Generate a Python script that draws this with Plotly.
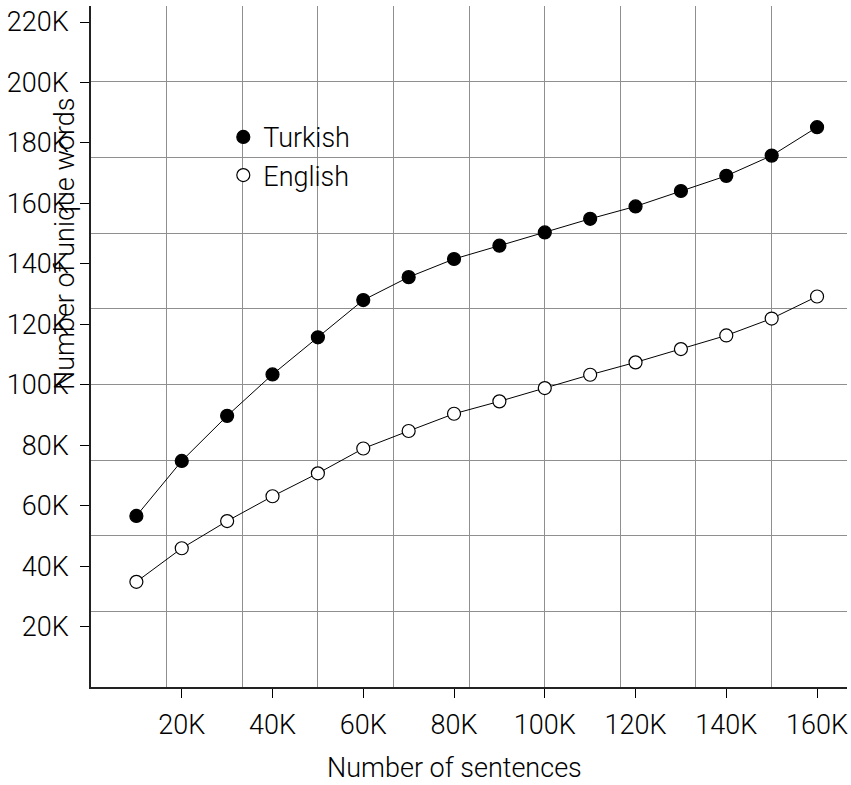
import plotly.graph_objects as go

sentences = [10000, 20000, 30000, 40000, 50000, 60000, 70000, 80000,
             90000, 100000, 110000, 120000, 130000, 140000, 150000, 160000]
turkish = [56600, 74800, 89700, 103400, 115700, 128000, 135600, 141600,
           146000, 150400, 154900, 159000, 164100, 169100, 175800, 185200]
english = [34800, 45900, 54900, 63100, 70700, 78900, 84700, 90400,
           94500, 98900, 103300, 107400, 111800, 116300, 121900, 129200]

x_tickvals = [20000, 40000, 60000, 80000, 100000, 120000, 140000, 160000]
x_ticktext = ["20K", "40K", "60K", "80K", "100K", "120K", "140K", "160K"]
y_tickvals = [20000, 40000, 60000, 80000, 100000, 120000, 140000,
              160000, 180000, 200000, 220000]
y_ticktext = ["20K", "40K", "60K", "80K", "100K", "120K", "140K",
              "160K", "180K", "200K", "220K"]

FONT = "Roboto"
FS = 27
FW = 300

fig = go.Figure()

# empty trace so the background grid subplot is drawn
fig.add_trace(go.Scatter(x=[None], y=[None], xaxis="x", yaxis="y",
                         showlegend=False, hoverinfo="skip", mode="markers"))

for name, vals, fill in [("Turkish", turkish, "black"), ("English", english, "white")]:
    fig.add_trace(go.Scatter(
        x=sentences, y=vals, mode="lines", xaxis="x2", yaxis="y2",
        line=dict(color="black", width=1), showlegend=False, hoverinfo="skip",
    ))
for name, vals, fill in [("Turkish", turkish, "black"), ("English", english, "white")]:
    fig.add_trace(go.Scatter(
        x=sentences, y=vals, name=name, mode="markers",
        xaxis="x2", yaxis="y2",
        marker=dict(symbol="circle", size=13, color=fill,
                    line=dict(color="black", width=1.2)),
    ))

grid_color = "#8f8f8f"

fig.update_layout(
    width=851, height=785,
    margin=dict(l=91, r=4, t=6, b=98),
    paper_bgcolor="white", plot_bgcolor="white",
    font=dict(family=FONT, size=FS, color="black", weight=FW),
    showlegend=True,
    legend=dict(
        x=0.175, y=0.843, xanchor="left", yanchor="top",
        bgcolor="rgba(0,0,0,0)", borderwidth=0,
        font=dict(family=FONT, size=FS, color="black", weight=FW),
        itemwidth=30, tracegroupgap=0,
        itemsizing="trace",
    ),
    xaxis=dict(
        range=[0, 10], dtick=1, tick0=0, showgrid=True, gridcolor=grid_color,
        gridwidth=1, showticklabels=False, ticks="", zeroline=False,
        showline=False, fixedrange=True,
    ),
    yaxis=dict(
        range=[0, 9], dtick=1, tick0=0, showgrid=True, gridcolor=grid_color,
        gridwidth=1, showticklabels=False, ticks="", zeroline=False,
        showline=False, fixedrange=True,
    ),
    xaxis2=dict(
        overlaying="x", anchor="y2", side="bottom",
        range=[0, 166600], showgrid=False, zeroline=False,
        tickmode="array", tickvals=x_tickvals, ticktext=x_ticktext,
        ticks="outside", ticklen=9, tickwidth=1, tickcolor="black",
        showline=True, linecolor="#222222", linewidth=1.6,
        tickfont=dict(family=FONT, size=FS, color="black", weight=FW),
        ticklabelstandoff=4,
    ),
    yaxis2=dict(
        overlaying="y", anchor="x2", side="left",
        range=[0, 225300], showgrid=False, zeroline=False,
        tickmode="array", tickvals=y_tickvals, ticktext=y_ticktext,
        ticks="outside", ticklen=9, tickwidth=1, tickcolor="black",
        showline=True, linecolor="#222222", linewidth=1.6,
        tickfont=dict(family=FONT, size=FS, color="black", weight=FW),
        ticklabelstandoff=6,
    ),
    annotations=[
        dict(text="Number of sentences", xref="paper", yref="paper",
             x=0.4804, y=-0.119, xanchor="center", yanchor="middle",
             showarrow=False,
             font=dict(family=FONT, size=FS, color="black", weight=FW)),
        dict(text="Number of unique words", xref="paper", yref="paper",
             x=-0.0341, y=0.6508, xanchor="center", yanchor="middle",
             textangle=-90, showarrow=False,
             font=dict(family=FONT, size=FS, color="black", weight=FW)),
    ],
)

fig.write_html("out.html")
